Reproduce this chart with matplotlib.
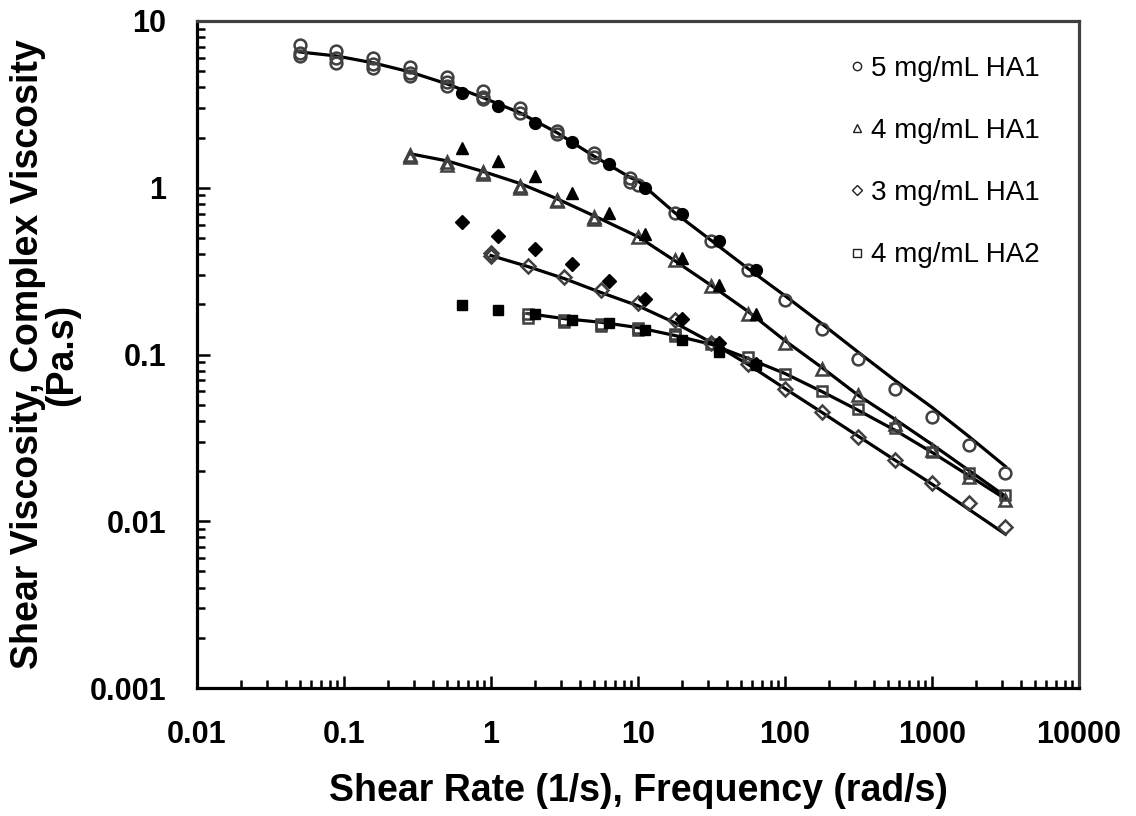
import matplotlib
matplotlib.use('Agg')
import matplotlib.pyplot as plt
from matplotlib.lines import Line2D
import numpy as np

plt.rcParams['font.family'] = ['Liberation Sans', 'DejaVu Sans']

# ---------------- data ----------------
# steady shear rates (1/s)
c5_rate = [0.05, 0.0889, 0.158, 0.281, 0.5, 0.889, 1.58, 2.81, 5.0, 8.89,
           10, 17.8, 31.6, 56.2, 100, 178, 316, 562, 1000, 1778, 3162]
c5_rep1 = [7.2, 6.6, 6.0, 5.3, 4.6, 3.8, 3.0, 2.2, 1.62, 1.15,
           1.04, 0.71, 0.48, 0.32, 0.213, 0.143, 0.0946, 0.0625, 0.042, 0.0285, 0.0194]
c5_rep2 = [6.4, 6.0, 5.5, 4.9, 4.3, 3.5, 2.8, 2.1, 1.53, 1.09]
c5_rep3 = [6.2, 5.6, 5.2, 4.7, 4.1, 3.4]
c5_fit = [6.52, 6.17, 5.61, 4.95, 4.20, 3.46, 2.81, 2.14, 1.55, 1.15,
          1.10, 0.708, 0.482, 0.327, 0.225, 0.153, 0.103, 0.0698, 0.0482, 0.0323, 0.0213]

t4_rate = [0.281, 0.5, 0.889, 1.58, 2.81, 5.0, 10, 17.8, 31.6, 56.2, 100,
           178, 316, 562, 1000, 1778, 3162]
t4_rep1 = [1.58, 1.43, 1.25, 1.03, 0.85, 0.67, 0.51, 0.37, 0.259, 0.176, 0.118,
           0.0824, 0.0568, 0.0381, 0.0266, 0.0183, 0.0134]
t4_rep2 = [1.52, 1.37, 1.21, 1.0, 0.83, 0.65]
t4_fit = [1.60, 1.45, 1.25, 1.06, 0.859, 0.680, 0.509, 0.365, 0.259, 0.181, 0.121,
          0.0836, 0.0568, 0.0408, 0.0289, 0.0202, 0.0141]

d3_rate = [1.0, 1.78, 3.16, 5.62, 10, 17.8, 31.6, 56.2, 100, 178, 316, 562,
           1000, 1778, 3162]
d3_rep1 = [0.392, 0.341, 0.293, 0.242, 0.205, 0.160, 0.118, 0.0883, 0.0625, 0.045,
           0.0318, 0.0232, 0.0169, 0.0128, 0.0092]
d3_rep2 = [0.405]
d3_fit = [0.392, 0.337, 0.285, 0.235, 0.196, 0.155, 0.118, 0.0871, 0.0625, 0.0450,
          0.0323, 0.0232, 0.0167, 0.0118, 0.00836]

s2_rate = [1.78, 3.16, 5.62, 10, 17.8, 31.6, 56.2, 100, 178, 316, 562, 1000, 1778, 3162]
s2_rep1 = [0.174, 0.162, 0.153, 0.145, 0.132, 0.116, 0.097, 0.0769, 0.0608, 0.0469,
           0.0361, 0.0259, 0.0194, 0.0143]
s2_rep2 = [0.165, 0.157, 0.149, 0.141, 0.129]
s2_fit = [0.176, 0.164, 0.156, 0.145, 0.130, 0.115, 0.0946, 0.0769, 0.0600, 0.0462,
          0.0351, 0.0259, 0.0188, 0.0136]

# oscillatory frequencies (rad/s) and complex viscosity
freq = [0.631, 1.12, 2.0, 3.55, 6.31, 11.2, 20.0, 35.5, 63.1]
osc5 = [3.70, 3.10, 2.45, 1.88, 1.39, 1.00, 0.70, 0.48, 0.32]
osc4 = [1.74, 1.45, 1.18, 0.93, 0.71, 0.53, 0.38, 0.26, 0.176]
osc3 = [0.625, 0.516, 0.43, 0.35, 0.277, 0.216, 0.164, 0.118, 0.088]
osc2 = [0.199, 0.186, 0.174, 0.162, 0.154, 0.141, 0.123, 0.103, 0.086]

labels = ['5 mg/mL HA1', '4 mg/mL HA1', '3 mg/mL HA1', '4 mg/mL HA2']
xticks = [0.01, 0.1, 1, 10, 100, 1000, 10000]
xticklabels = ['0.01', '0.1', '1', '10', '100', '1000', '10000']
yticks = [0.001, 0.01, 0.1, 1, 10]
yticklabels = ['0.001', '0.01', '0.1', '1', '10']

# ---------------- plot ----------------
fig = plt.figure(figsize=(11.36, 8.16), dpi=100)
ax = fig.add_axes([197/1136, 1 - 688/816, (1079-197)/1136, (688-21)/816])

gray = '#404040'
lw_fit = 2.3
open_kw = dict(ls='none', mfc='none', mec=gray, mew=1.8, zorder=3)
fill_kw = dict(ls='none', color='black', zorder=4)

series = [
    (c5_rate, [c5_rep1, c5_rep2, c5_rep3], c5_fit, osc5, 'o', 8.5),
    (t4_rate, [t4_rep1, t4_rep2], t4_fit, osc4, '^', 8.5),
    (d3_rate, [d3_rep1, d3_rep2], d3_fit, osc3, 'D', 7.0),
    (s2_rate, [s2_rep1, s2_rep2], s2_fit, osc2, 's', 7.5),
]
for rate, reps, fit, osc, mk, ms in series:
    ax.plot(rate, fit, color='black', lw=lw_fit, zorder=2)
    for rep in reps:
        ax.plot(rate[:len(rep)], rep, marker=mk, ms=ms, **open_kw)
    ax.plot(freq, osc, marker=mk, ms=ms, **fill_kw)

ax.set_xscale('log')
ax.set_yscale('log')
ax.set_xlim(0.01, 10000)
ax.set_ylim(0.001, 10)

ax.set_xticks(xticks)
ax.set_xticklabels(xticklabels)
ax.set_yticks(yticks)
ax.set_yticklabels(yticklabels)
ax.xaxis.set_minor_locator(matplotlib.ticker.LogLocator(base=10, subs=np.arange(2, 10)))
ax.yaxis.set_minor_locator(matplotlib.ticker.LogLocator(base=10, subs=np.arange(2, 10)))
ax.xaxis.set_minor_formatter(matplotlib.ticker.NullFormatter())
ax.yaxis.set_minor_formatter(matplotlib.ticker.NullFormatter())

ax.tick_params(which='both', direction='in', top=False, right=False, color='black')
ax.tick_params(which='major', length=9, width=1.8, labelsize=22)
ax.tick_params(axis='x', which='major', pad=23)
ax.tick_params(axis='y', which='major', pad=22)
ax.tick_params(which='minor', length=6, width=1.8)
for lab in ax.get_xticklabels() + ax.get_yticklabels():
    lab.set_fontweight('bold')

for s in ['left', 'bottom']:
    ax.spines[s].set_linewidth(2.3)
    ax.spines[s].set_color('black')
for s in ['top', 'right']:
    ax.spines[s].set_linewidth(2.3)
    ax.spines[s].set_color('#404040')

ax.set_xlabel('Shear Rate (1/s), Frequency (rad/s)', fontsize=27,
              fontweight='bold', va='center')
ax.xaxis.set_label_coords(0.5, -(791-688)/667)
ax.set_ylabel('Shear Viscosity, Complex Viscosity\n(Pa.s)', fontsize=27,
              fontweight='bold', va='center', linespacing=0.95)
ax.yaxis.set_label_coords((45-197)/882, 0.5)

handles = [Line2D([], [], ls='none', marker=m, ms=s, mfc='white', mec='#202020', mew=1.0)
           for m, s in zip(['o', '^', 'D', 's'], [6, 6, 5, 5.5])]
ax.legend(handles, labels, loc='upper left', bbox_to_anchor=((849-197)/882, 1 - (56-21)/667),
          frameon=False, fontsize=20, handlelength=0.6, handletextpad=0.2,
          labelspacing=1.3, borderaxespad=0, borderpad=0)

fig.savefig('out.png', dpi=100)
